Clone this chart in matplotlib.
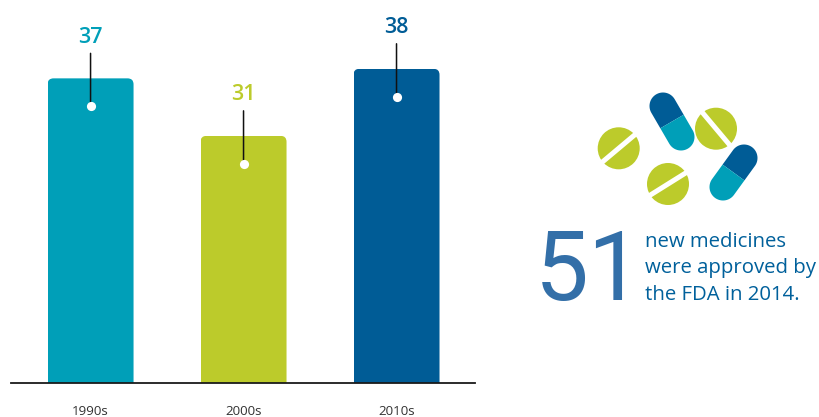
#!/usr/bin/env python3
import numpy as np
import matplotlib
matplotlib.use("Agg")
import matplotlib.pyplot as plt
from matplotlib.patches import Circle, FancyBboxPatch, Polygon
from matplotlib.transforms import offset_copy

decades = ["1990s", "2000s", "2010s"]
approvals = [37, 31, 38]
colors = ["#009FB8", "#BCCB2B", "#005C96"]

plt.rcParams['font.family'] = ['Open Sans', 'DejaVu Sans']

W, H = 820, 417
fig = plt.figure(figsize=(W/100, H/100), dpi=100)

# bar axes, bottom edge sits on the baseline
ax = fig.add_axes([11/W, (H-383)/H, 464/W, 383/H])
ymin = 5.2
px_per_unit = 9.58
ax.set_xlim(-0.52, 2.513)
ax.set_ylim(ymin, ymin + 383/px_per_unit)
for s in ['top', 'left', 'right']:
    ax.spines[s].set_visible(False)
ax.spines['bottom'].set_linewidth(1.3)
ax.spines['bottom'].set_color('#1a1a1a')
ax.set_yticks([])
ax.set_xticks(range(len(decades)))
ax.set_xticklabels(decades, fontsize=9.6, color='#333333')
ax.tick_params(axis='x', length=0, pad=16)

bars = ax.bar(range(len(decades)), approvals, width=86/153, color=colors)

xscale = 464/3.033
dot_tr = offset_copy(ax.transData, fig, y=-28*0.72, units='points')
stem_tr = offset_copy(ax.transData, fig, y=25*0.72, units='points')
for b, val, col in zip(bars, approvals, colors):
    # rounded top corners, the lower part of the box falls below the axes
    box = FancyBboxPatch((b.get_x(), 0), b.get_width(), val,
                         boxstyle="round,pad=0,rounding_size=%f" % (6/xscale),
                         mutation_aspect=xscale/px_per_unit,
                         transform=ax.transData)
    b.set_clip_path(box)
    cx = b.get_x() + b.get_width()/2
    ax.annotate(str(val), xy=(cx, val), xytext=(0, 41*0.72), textcoords='offset points',
                ha='center', va='center', fontsize=15.5, fontweight='semibold', color=col,
                annotation_clip=False)
    # stem and dot sit at fixed offsets from the bar top
    ax.annotate("", xy=(cx, val), xycoords=dot_tr, xytext=(cx, val), textcoords=stem_tr,
                arrowprops=dict(arrowstyle='-', color='#111111', lw=1.1, shrinkA=0, shrinkB=0),
                annotation_clip=False)
    ax.plot([cx], [val], transform=dot_tr, marker='o', ms=6.6, color='white',
            mec='none', clip_on=False, zorder=5)

# overlay in pixel coordinates for the pills and the callout
ov = fig.add_axes([0, 0, 1, 1])
ov.set_xlim(0, W)
ov.set_ylim(H, 0)
ov.axis('off')
ov.patch.set_alpha(0)


def tablet(cx, cy, angle):
    ov.add_patch(Circle((cx, cy), 21, color="#BCCB2B", lw=0))
    t = np.radians(angle)
    dx, dy = 24*np.cos(t), -24*np.sin(t)
    ov.plot([cx-dx, cx+dx], [cy-dy, cy+dy], color='white', lw=3.6, solid_capstyle='butt')


def capsule(x0, y0, x1, y1, r=13.5):
    # (x0, y0) is the navy end, (x1, y1) the teal end
    mid = np.array([(x0+x1)/2, (y0+y1)/2])
    a = np.arctan2(y1-y0, x1-x0)
    n = np.array([np.cos(a + np.pi/2), np.sin(a + np.pi/2)]) * r
    th = np.linspace(a + np.pi/2, a + 3*np.pi/2, 30)
    arc = np.c_[x0 + r*np.cos(th), y0 + r*np.sin(th)]
    ov.add_patch(Polygon(np.vstack([arc, mid - n, mid + n]), closed=True, color="#005C96", lw=0))
    th = np.linspace(a - np.pi/2, a + np.pi/2, 30)
    arc = np.c_[x1 + r*np.cos(th), y1 + r*np.sin(th)]
    ov.add_patch(Polygon(np.vstack([arc, mid + n, mid - n]), closed=True, color="#009FB8", lw=0))


tablet(618.7, 148.3, 40)
tablet(668, 184, 32)
tablet(716, 128.7, -50)
capsule(663, 106, 681, 137)
capsule(744, 158, 723, 187)

ov.text(643, 300, "51", fontsize=69, color="#336FA8", ha='right', va='baseline',
        family=['Roboto', 'Open Sans'])
for y, line in zip([246.7, 273, 300], ["new medicines", "were approved by", "the FDA in 2014."]):
    ov.text(645, y, line, fontsize=14.7, color="#00609B", ha='left', va='baseline')

fig.savefig('out.png', dpi=100)
